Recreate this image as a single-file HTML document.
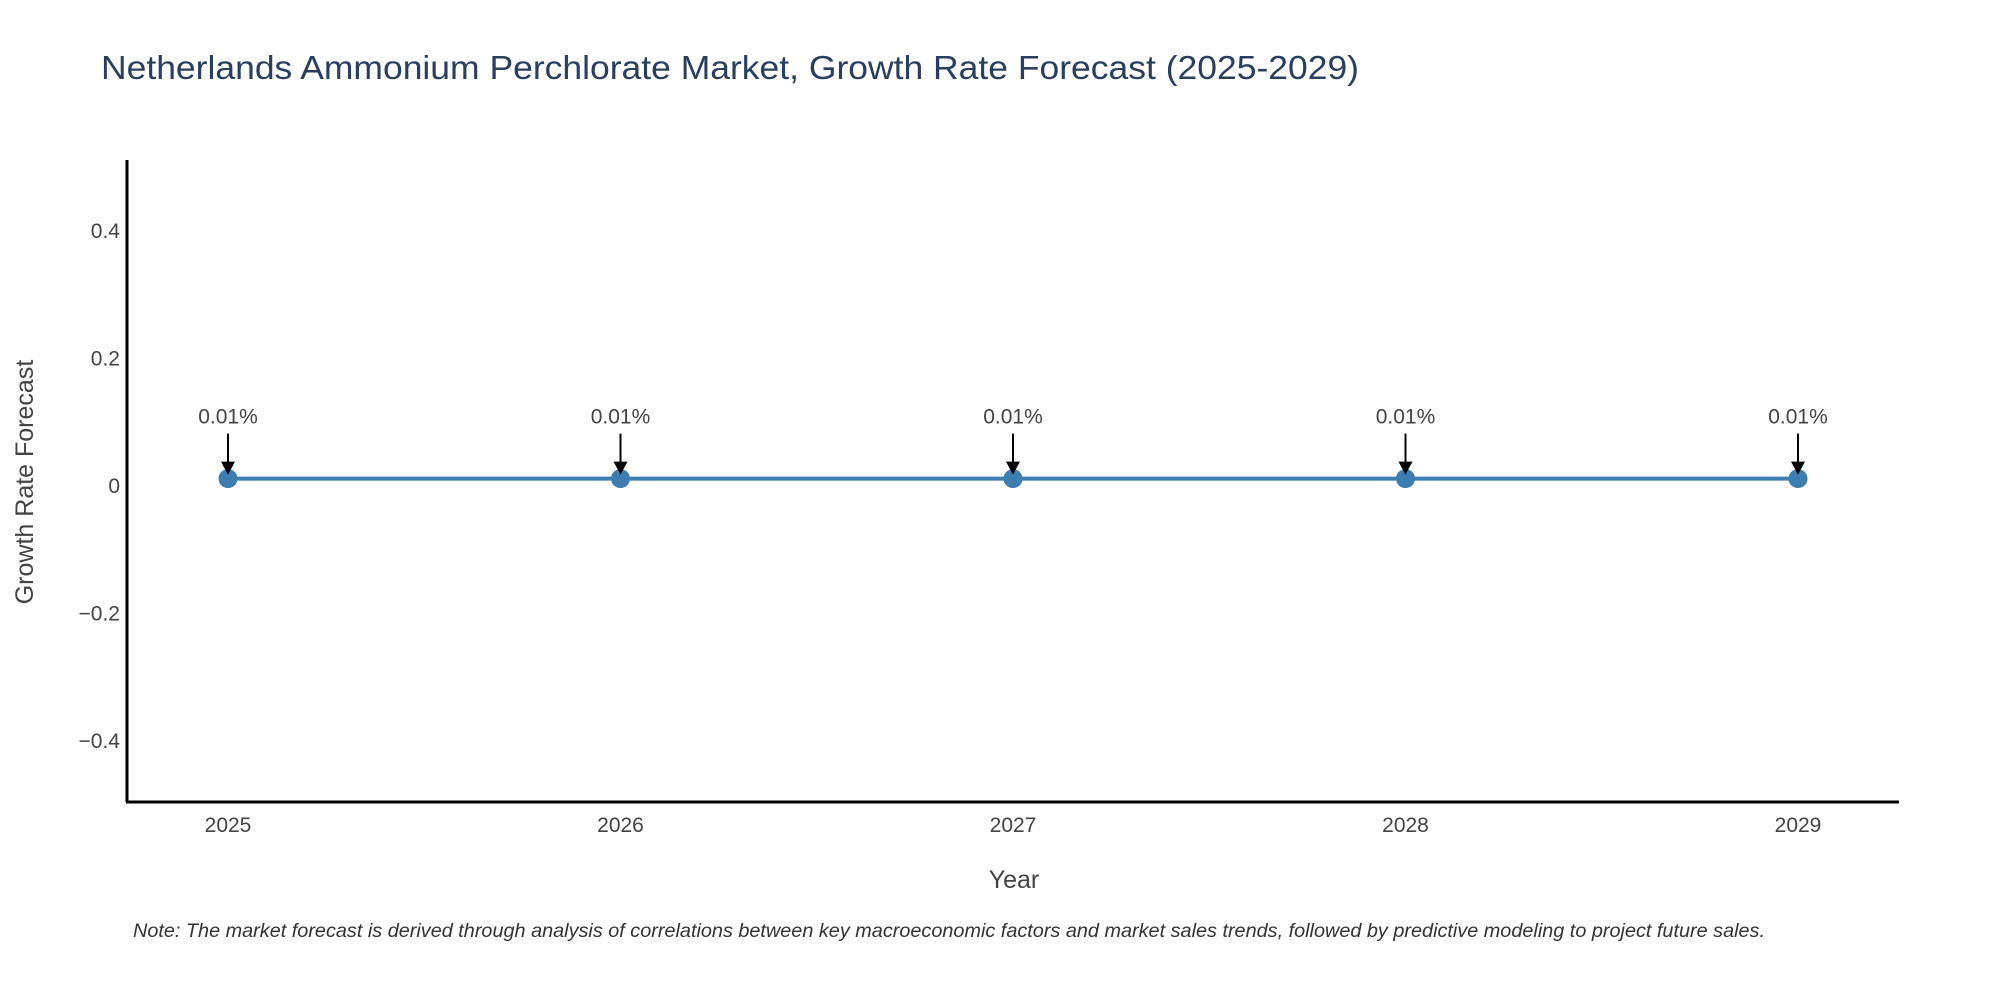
<!DOCTYPE html>
<html><head><meta charset="utf-8"><style>html,body{margin:0;padding:0;background:#fff}svg{display:block;font-family:"Liberation Sans",sans-serif}</style></head>
<body>
<svg id="chart" width="2000" height="1000" viewBox="0 0 2000 1000">
<text x="101" y="79" font-size="33" fill="#2a3f5f" textLength="1258" lengthAdjust="spacingAndGlyphs">Netherlands Ammonium Perchlorate Market, Growth Rate Forecast (2025-2029)</text>
<g id="yticks"></g>
<g id="xticks"></g>
<line x1="127" y1="160" x2="127" y2="802" stroke="#000" stroke-width="3"/>
<line x1="126" y1="802" x2="1899" y2="802" stroke="#000" stroke-width="3"/>
<g id="series"></g>
<g id="annots"></g>
<text x="1014" y="888" font-size="25" fill="#444" text-anchor="middle">Year</text>
<text transform="translate(33,482) rotate(-90)" font-size="25" fill="#444" text-anchor="middle">Growth Rate Forecast</text>
<text x="133" y="937" font-size="19" font-style="italic" fill="#333" textLength="1632" lengthAdjust="spacingAndGlyphs">Note: The market forecast is derived through analysis of correlations between key macroeconomic factors and market sales trends, followed by predictive modeling to project future sales.</text>
</svg>
<script>
const years = ["2025","2026","2027","2028","2029"];
const growth = [0.01, 0.01, 0.01, 0.01, 0.01];
const labels = ["0.01%","0.01%","0.01%","0.01%","0.01%"];
const yTicks = [0.4, 0.2, 0, -0.2, -0.4];
const yTickLabels = ["0.4","0.2","0","\u22120.2","\u22120.4"];

const NS="http://www.w3.org/2000/svg";
function X(i){return 228+i*392.5;}
function Y(v){return 485-v*638;}
function mk(tag,attrs,parent){const e=document.createElementNS(NS,tag);for(const k in attrs)e.setAttribute(k,attrs[k]);parent.appendChild(e);return e;}

const yg=document.getElementById('yticks');
yTicks.forEach((v,i)=>{
  const t=mk('text',{x:120,y:Y(v)+8,'font-size':21,fill:'#444','text-anchor':'end'},yg);
  
  
  t.textContent=yTickLabels[i];
});
const xg=document.getElementById('xticks');
years.forEach((y,i)=>{
  const t=mk('text',{x:X(i),y:832,'font-size':21,fill:'#444','text-anchor':'middle'},xg);
  
  
  t.textContent=y;
});
const sg=document.getElementById('series');
const pl=mk('polyline',{points:growth.map((v,i)=>X(i)+','+Y(v)).join(' '),fill:'none',stroke:'#3d7eb0','stroke-width':4},sg);


growth.forEach((v,i)=>{
  const c=mk('circle',{cx:X(i),cy:Y(v),r:9.5,fill:'#3d7eb0'},sg);
  
  
});
const ag=document.getElementById('annots');
growth.forEach((v,i)=>{
  const x=X(i),y=Y(v);
  const t=mk('text',{x:x,y:y-55,'font-size':21,fill:'#444','text-anchor':'middle'},ag);
  
  
  t.textContent=labels[i];
  const l=mk('line',{x1:x,y1:y-45,x2:x,y2:y-14,stroke:'#000','stroke-width':2},ag);
  
  
  const p=mk('polygon',{points:`${x-7},${y-17} ${x+7},${y-17} ${x},${y-4}`,fill:'#000'},ag);
  
  
});
</script>
</body></html>
